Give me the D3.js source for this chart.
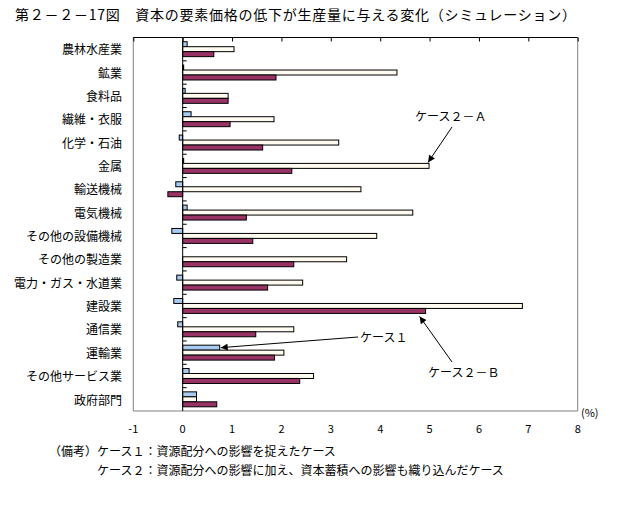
<!DOCTYPE html>
<html><head><meta charset="utf-8">
<script src="https://cdn.jsdelivr.net/npm/d3@7/dist/d3.min.js"></script>
<style>
body{margin:0;background:#fff;}
text{font-family:"Noto Sans CJK JP","Noto Sans",sans-serif;fill:#000;}
</style></head>
<body><svg id="c" width="630" height="520"></svg>
<script>
const categories = ["農林水産業","鉱業","食料品","繊維・衣服","化学・石油","金属","輸送機械","電気機械","その他の設備機械","その他の製造業","電力・ガス・水道業","建設業","通信業","運輸業","その他サービス業","政府部門"];
const case1  = [0.09,0.02,0.05,0.17,-0.07,0.02,-0.14,0.09,-0.22,0.0,-0.12,-0.18,-0.10,0.75,0.13,0.28];
const case2A = [1.04,4.34,0.92,1.85,3.16,4.99,3.61,4.66,3.93,3.32,2.43,6.88,2.25,2.05,2.65,0.28];
const case2B = [0.63,1.89,0.92,0.96,1.62,2.21,-0.30,1.29,1.42,2.25,1.72,4.92,1.48,1.86,2.37,0.69];
const seriesNames = ["ケース１","ケース２－Ａ","ケース２－Ｂ"];
const seriesColors = ["#a6caf0","#fffbf0","#993366"];
const xTicks = [-1,0,1,2,3,4,5,6,7,8];
const title = "第２－２－17図　資本の要素価格の低下が生産量に与える変化（シミュレーション）";
const notePrefix = "（備考）";
const notes = ["ケース１：資源配分への影響を捉えたケース","ケース２：資源配分への影響に加え、資本蓄積への影響も織り込んだケース"];

(function(){
const svg = d3.select("#c");
const L=133.3, R=577.7, T=37.5, B=411;
const x = d3.scaleLinear().domain([-1,8]).range([L,R]);
const y = d3.scaleBand().domain(categories).range([T,B]).paddingInner(0.36).paddingOuter(0.18);
const yi = d3.scaleBand().domain([0,1,2]).range([0,y.bandwidth()]);
const series=[case1,case2A,case2B];

svg.append("text").attr("x",15).attr("y",20).attr("font-size",14)
  .attr("textLength",561).attr("lengthAdjust","spacing").text(title);

svg.append("line").attr("x1",L).attr("x2",L).attr("y1",T).attr("y2",B).attr("stroke","#808080");
svg.append("line").attr("x1",R).attr("x2",R).attr("y1",T).attr("y2",B).attr("stroke","#808080");
svg.append("line").attr("x1",L).attr("x2",R).attr("y1",B).attr("y2",B).attr("stroke","#808080");
const topAxis = svg.append("g").attr("transform",`translate(0,${T})`)
  .call(d3.axisBottom(x).tickValues(xTicks).tickSize(4).tickFormat(""));
topAxis.select(".domain").remove();
topAxis.append("line").attr("x1",L).attr("x2",R).attr("stroke","#000").attr("stroke-width",1);
topAxis.selectAll("line").attr("stroke","#000");

categories.forEach((c,i)=>{
  series.forEach((s,k)=>{
    const v=s[i];
    svg.append("rect")
      .attr("x",x(Math.min(0,v))).attr("width",Math.abs(x(v)-x(0)))
      .attr("y",y(c)+yi(k)).attr("height",yi.bandwidth())
      .attr("fill",seriesColors[k]).attr("stroke","#000").attr("stroke-width",1);
  });
});

svg.append("line").attr("x1",x(0)).attr("x2",x(0)).attr("y1",T).attr("y2",B).attr("stroke","#000");
const step=y.step();
d3.range(1,categories.length).forEach(j=>{
  const yy=T+j*step;
  svg.append("line").attr("x1",x(0)).attr("x2",x(0)+4).attr("y1",yy).attr("y2",yy).attr("stroke","#000");
});

svg.append("g").selectAll("text").data(categories).join("text")
  .attr("x",122).attr("y",d=>y(d)+y.bandwidth()/2+1).attr("dy","0.35em")
  .attr("text-anchor","end").attr("font-size",12).text(d=>d);

svg.append("g").selectAll("text").data(xTicks).join("text")
  .attr("x",d=>x(d)).attr("y",433).attr("text-anchor","middle").attr("font-size",11)
  .text(d=>d);
svg.append("text").attr("x",581).attr("y",417).attr("font-size",11).text("(%)");

svg.append("defs").append("marker").attr("id","ah").attr("viewBox","0 0 10 10")
  .attr("refX",10).attr("refY",5).attr("markerWidth",9).attr("markerHeight",7)
  .attr("markerUnits","userSpaceOnUse").attr("orient","auto")
  .append("path").attr("d","M0,0L10,5L0,10z").attr("fill","#000");

function arrow(x1,y1,x2,y2){
  svg.append("line").attr("x1",x1).attr("y1",y1).attr("x2",x2).attr("y2",y2)
    .attr("stroke","#000").attr("stroke-width",1).attr("marker-end","url(#ah)");
}
const iA=categories.indexOf("金属");
arrow(452,127, x(case2A[iA])-1, y(categories[iA])+yi(1)-1);
svg.append("text").attr("x",415).attr("y",121).attr("font-size",12).text(seriesNames[1]);
const iB=categories.indexOf("建設業");
arrow(452,362, x(case2B[iB])-6, y(categories[iB])+yi(2)+yi.bandwidth()+3);
svg.append("text").attr("x",428).attr("y",377).attr("font-size",12).text(seriesNames[2]);
const i1=categories.indexOf("運輸業");
arrow(358,337, x(case1[i1])+1, y(categories[i1])+yi(0)+yi.bandwidth()/2);
svg.append("text").attr("x",360).attr("y",342).attr("font-size",12).text(seriesNames[0]);

svg.append("text").attr("x",97).attr("y",456).attr("font-size",12).attr("text-anchor","end").text(notePrefix);
notes.forEach((n,i)=>svg.append("text").attr("x",97).attr("y",456+18.5*i).attr("font-size",12).text(n));
})();
</script></body></html>
